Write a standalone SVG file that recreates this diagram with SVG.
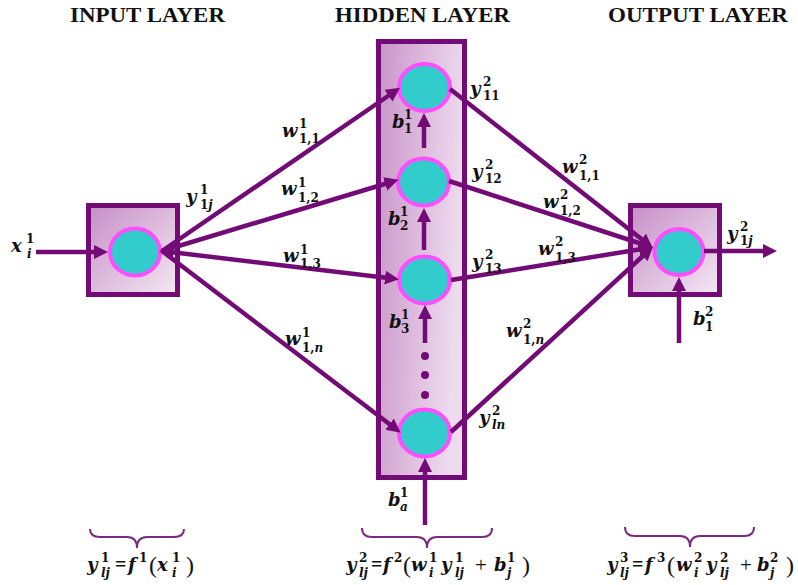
<svg xmlns="http://www.w3.org/2000/svg" width="798" height="585" viewBox="0 0 798 585">
<style>
.box{stroke:#730b76;stroke-width:5}
.nd{fill:#33cccc;stroke:#ff4dff;stroke-width:4}
.cn{stroke:#730b76;stroke-width:4.5;fill:none}
.ttl{font-family:"Liberation Serif",serif;font-weight:bold;font-size:20px;fill:#111}
.mi{font-family:"DejaVu Serif",serif;font-style:italic;font-weight:bold;font-size:18px;fill:#111}
.sc{font-family:"DejaVu Serif",serif;font-style:normal;font-weight:bold;font-size:12px}
.si{font-style:italic}
.op{font-family:"Liberation Serif",serif;font-style:normal;font-weight:normal;font-size:21px}
.eq{font-family:"Liberation Serif",serif;font-style:normal;font-weight:bold;font-size:20px}
.pa{font-family:"Liberation Serif",serif;font-style:normal;font-weight:normal;font-size:24px}
.br{stroke:#7b2a7e;stroke-width:2;fill:none}
.dot{fill:#730b76}
</style>
<defs>
<linearGradient id="gb" x1="0" y1="0" x2="1" y2="1">
<stop offset="0" stop-color="#c68ec6"/><stop offset="1" stop-color="#f4e8f4"/>
</linearGradient>
<linearGradient id="gh" x1="0" y1="0" x2="1" y2="0.25">
<stop offset="0" stop-color="#c994c9"/><stop offset="1" stop-color="#eedcee"/>
</linearGradient>
<marker id="ah" markerUnits="userSpaceOnUse" markerWidth="16" markerHeight="16" refX="3" refY="7" orient="auto">
<path d="M0,0 L14,7 L0,14 z" fill="#730b76"/>
</marker>
</defs>

<g id="titles">
<text class="ttl" x="70" y="22" textLength="155" lengthAdjust="spacingAndGlyphs">INPUT LAYER</text>
<text class="ttl" x="335" y="22" textLength="175" lengthAdjust="spacingAndGlyphs">HIDDEN LAYER</text>
<text class="ttl" x="608" y="22" textLength="180" lengthAdjust="spacingAndGlyphs">OUTPUT LAYER</text>
</g>

<g id="hidden-layer">
<rect class="box" x="378.5" y="41.5" width="86" height="436" fill="url(#gh)"/>
<circle class="dot" cx="425" cy="356" r="4"/>
<circle class="dot" cx="425" cy="375" r="4"/>
<circle class="dot" cx="425" cy="395" r="4"/>
</g>

<g id="input-node">
<rect class="box" x="88.5" y="205.5" width="89" height="89" fill="url(#gb)"/>
<ellipse class="nd" cx="135" cy="252" rx="25" ry="23.5"/>
</g>
<g id="hidden-node-1"><ellipse class="nd" cx="424.5" cy="87.5" rx="25.5" ry="23.5"/></g>
<g id="hidden-node-2"><ellipse class="nd" cx="423.5" cy="182" rx="25.5" ry="23.5"/></g>
<g id="hidden-node-3"><ellipse class="nd" cx="424.5" cy="280" rx="25.5" ry="23.5"/></g>
<g id="hidden-node-n"><ellipse class="nd" cx="424.5" cy="433" rx="25.5" ry="23.5"/></g>
<g id="output-node">
<rect class="box" x="630.5" y="205.5" width="89" height="89" fill="url(#gb)"/>
<ellipse class="nd" cx="679" cy="252" rx="24.5" ry="23"/>
</g>

<g id="connectors">
<line class="cn" x1="36" y1="252" x2="97" y2="252" marker-end="url(#ah)"/>
<line class="cn" x1="162" y1="251" x2="391" y2="94" marker-end="url(#ah)"/>
<line class="cn" x1="162" y1="251" x2="388" y2="183" marker-end="url(#ah)"/>
<line class="cn" x1="162" y1="251" x2="388" y2="278" marker-end="url(#ah)"/>
<line class="cn" x1="162" y1="251" x2="392" y2="426" marker-end="url(#ah)"/>
<polygon points="159,251 173,244 173,258" fill="#730b76"/>
<line class="cn" x1="424" y1="148" x2="424" y2="124" marker-end="url(#ah)"/>
<line class="cn" x1="424" y1="250" x2="424" y2="219" marker-end="url(#ah)"/>
<line class="cn" x1="425" y1="343" x2="425" y2="316" marker-end="url(#ah)"/>
<line class="cn" x1="425" y1="525" x2="425" y2="469" marker-end="url(#ah)"/>
<line class="cn" x1="450" y1="89" x2="644" y2="241" marker-end="url(#ah)"/>
<line class="cn" x1="449" y1="181" x2="642" y2="244" marker-end="url(#ah)"/>
<line class="cn" x1="451" y1="280" x2="642" y2="249" marker-end="url(#ah)"/>
<line class="cn" x1="451" y1="432" x2="645" y2="254" marker-end="url(#ah)"/>
<line class="cn" x1="704" y1="251" x2="766" y2="251" marker-end="url(#ah)"/>
<line class="cn" x1="679" y1="343" x2="679" y2="288" marker-end="url(#ah)"/>
</g>

<g id="labels">
<text class="mi" x="11" y="252">x<tspan class="sc" x="26" y="243">1</tspan><tspan class="sc si" x="27" y="258">i</tspan></text>
<text class="mi" x="186" y="203">y<tspan class="sc" x="200" y="194">1</tspan><tspan class="sc" x="200" y="209">1<tspan class="si">j</tspan></tspan></text>
<text class="mi" x="282" y="137">w<tspan class="sc" x="299" y="128">1</tspan><tspan class="sc" x="299" y="143">1,1</tspan></text>
<text class="mi" x="281" y="195">w<tspan class="sc" x="298" y="187">1</tspan><tspan class="sc" x="298" y="202">1,2</tspan></text>
<text class="mi" x="283" y="262">w<tspan class="sc" x="300" y="254">1</tspan><tspan class="sc" x="300" y="268">1,3</tspan></text>
<text class="mi" x="285" y="345">w<tspan class="sc" x="302" y="337">1</tspan><tspan class="sc" x="302" y="352">1,<tspan class="si">n</tspan></tspan></text>
<text class="mi" x="470" y="95">y<tspan class="sc" x="483" y="86">2</tspan><tspan class="sc" x="483" y="100">11</tspan></text>
<text class="mi" x="472" y="178">y<tspan class="sc" x="485" y="169">2</tspan><tspan class="sc" x="485" y="183">12</tspan></text>
<text class="mi" x="472" y="268">y<tspan class="sc" x="485" y="259">2</tspan><tspan class="sc" x="485" y="273">13</tspan></text>
<text class="mi" x="479" y="424">y<tspan class="sc" x="492" y="415">2</tspan><tspan class="sc si" x="492" y="429">ln</tspan></text>
<text class="mi" x="562" y="173">w<tspan class="sc" x="579" y="164">2</tspan><tspan class="sc" x="579" y="180">1,1</tspan></text>
<text class="mi" x="543" y="208">w<tspan class="sc" x="560" y="199">2</tspan><tspan class="sc" x="560" y="215">1,2</tspan></text>
<text class="mi" x="538" y="255">w<tspan class="sc" x="555" y="246">2</tspan><tspan class="sc" x="555" y="262">1,3</tspan></text>
<text class="mi" x="506" y="337">w<tspan class="sc" x="523" y="328">2</tspan><tspan class="sc" x="523" y="344">1,<tspan class="si">n</tspan></tspan></text>
<text class="mi" x="727" y="240">y<tspan class="sc" x="740" y="231">2</tspan><tspan class="sc" x="740" y="245">1<tspan class="si">j</tspan></tspan></text>
<text class="mi" x="693" y="325">b<tspan class="sc" x="705" y="316">2</tspan><tspan class="sc" x="705" y="331">1</tspan></text>
<text class="mi" x="392" y="128">b<tspan class="sc" x="404" y="119">1</tspan><tspan class="sc" x="404" y="133">1</tspan></text>
<text class="mi" x="388" y="225">b<tspan class="sc" x="400" y="216">1</tspan><tspan class="sc" x="400" y="230">2</tspan></text>
<text class="mi" x="389" y="328">b<tspan class="sc" x="401" y="319">1</tspan><tspan class="sc" x="401" y="333">3</tspan></text>
<text class="mi" x="388" y="506">b<tspan class="sc" x="400" y="497">1</tspan><tspan class="sc si" x="400" y="511">a</tspan></text>
</g>

<g id="braces">
<path class="br" d="M90,529 Q90,537 100,537 L127,537 Q137,537 137,548 Q137,537 147,537 L174,537 Q184,537 184,529"/>
<path class="br" d="M362,528 Q362,537 372,537 L417,537 Q427,537 427,548 Q427,537 437,537 L482,537 Q492,537 492,528"/>
<path class="br" d="M625,527 Q625,536 635,536 L680,536 Q690,536 690,547 Q690,536 700,536 L744,536 Q754,536 754,527"/>
</g>

<g id="formulas">
<text class="mi" x="87" y="571">y<tspan class="sc" x="101" y="562">1</tspan><tspan class="sc si" x="101" y="577">lj</tspan><tspan class="eq" x="115" y="571">=</tspan><tspan x="128" y="571">f</tspan><tspan class="sc" x="139" y="562">1</tspan><tspan class="pa" x="149" y="573">(</tspan><tspan x="157" y="571">x</tspan><tspan class="sc" x="172" y="562">1</tspan><tspan class="sc si" x="172" y="577">i</tspan><tspan class="pa" x="186" y="573">)</tspan></text>
<text class="mi" x="346" y="571">y<tspan class="sc" x="359" y="562">2</tspan><tspan class="sc si" x="359" y="577">lj</tspan><tspan class="eq" x="371" y="571">=</tspan><tspan x="383" y="571">f</tspan><tspan class="sc" x="394" y="562">2</tspan><tspan class="pa" x="403" y="573">(</tspan><tspan x="411" y="571">w</tspan><tspan class="sc" x="429" y="562">1</tspan><tspan class="sc si" x="429" y="577">i</tspan><tspan x="441" y="571">y</tspan><tspan class="sc" x="455" y="562">1</tspan><tspan class="sc si" x="455" y="577">lj</tspan><tspan class="op" x="475" y="572">+</tspan><tspan x="494" y="571">b</tspan><tspan class="sc" x="507" y="562">1</tspan><tspan class="sc si" x="507" y="577">j</tspan><tspan class="pa" x="522" y="573">)</tspan></text>
<text class="mi" x="607" y="571">y<tspan class="sc" x="620" y="562">3</tspan><tspan class="sc si" x="620" y="577">lj</tspan><tspan class="eq" x="632" y="571">=</tspan><tspan x="645" y="571">f</tspan><tspan class="sc" x="657" y="562">3</tspan><tspan class="pa" x="667" y="573">(</tspan><tspan x="676" y="571">w</tspan><tspan class="sc" x="694" y="562">2</tspan><tspan class="sc si" x="694" y="577">i</tspan><tspan x="706" y="571">y</tspan><tspan class="sc" x="720" y="562">2</tspan><tspan class="sc si" x="720" y="577">lj</tspan><tspan class="op" x="740" y="572">+</tspan><tspan x="757" y="571">b</tspan><tspan class="sc" x="770" y="562">2</tspan><tspan class="sc si" x="770" y="577">j</tspan><tspan class="pa" x="786" y="573">)</tspan></text>
</g>
</svg>
